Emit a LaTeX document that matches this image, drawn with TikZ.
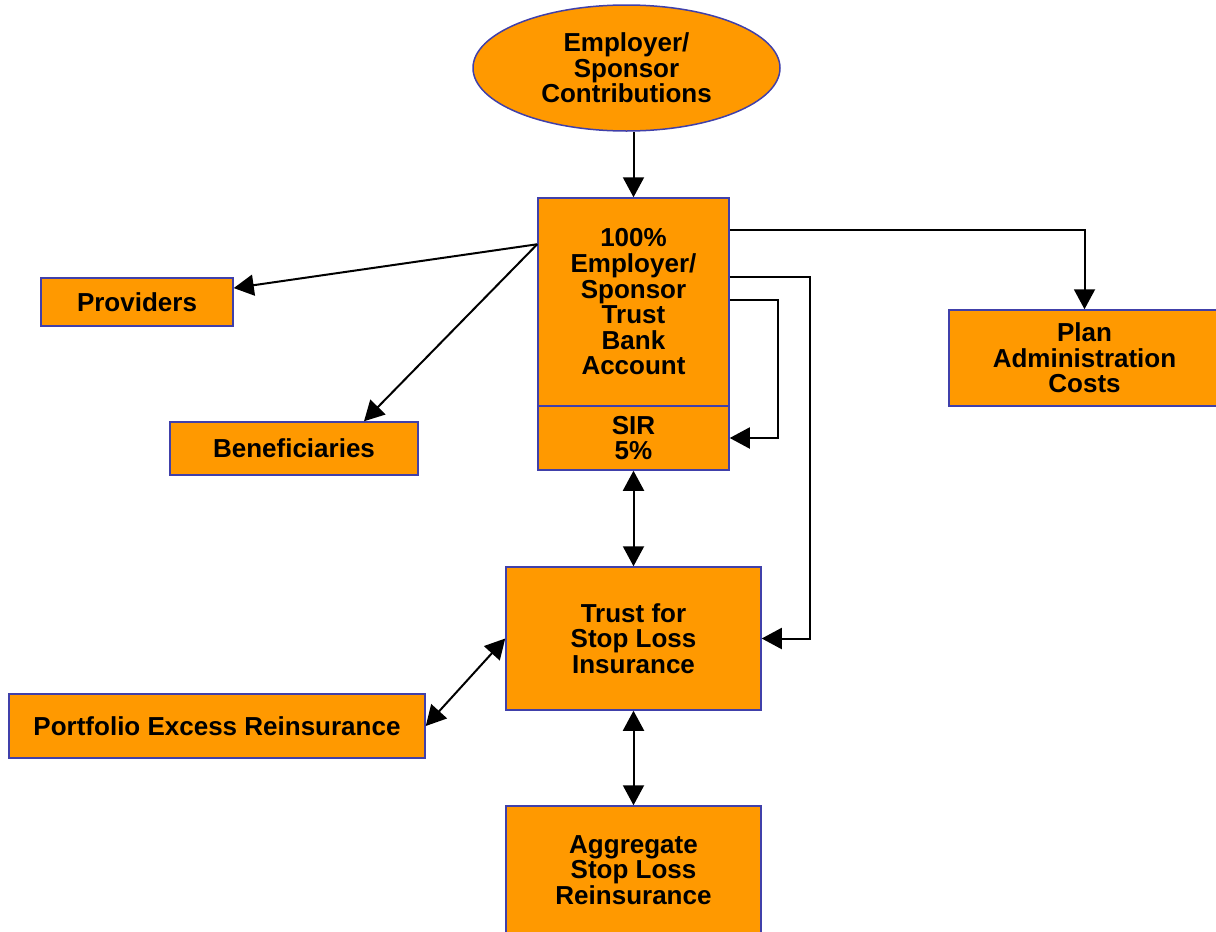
\documentclass[tikz,border=0pt]{standalone}
\usepackage{fontspec}
\setmainfont{Liberation Sans}
\usetikzlibrary{arrows.meta, shapes.geometric, calc}
\definecolor{fillorange}{RGB}{255,153,0}
\definecolor{edgeblue}{RGB}{64,64,170}

\begin{document}
\begin{tikzpicture}[
  x=0.5pt, y=-0.5pt,
  box/.style={rectangle, draw=edgeblue, fill=fillorange, line width=0.75pt, inner sep=0pt, align=center,
    font=\fontsize{13}{12.8}\selectfont\bfseries},
  oval/.style={box, ellipse},
  >={Triangle[length=10pt, width=10.5pt]}, line width=1pt
]
  \clip (0,0) rectangle (1216,932);
  \node[oval] (contrib) at (626.5,68) [minimum width=153.5pt, minimum height=63pt] {Employer/\\Sponsor\\Contributions};
  \node[box] (bank) at (633.5,302) [minimum width=95.5pt, minimum height=104pt] {100\%\\Employer/\\Sponsor\\Trust\\Bank\\Account};
  \node[box] (sir) at (633.5,438) [minimum width=95.5pt, minimum height=32pt] {SIR\\5\%};
  \node[box] (prov) at (137,302) [minimum width=96pt, minimum height=24pt] {Providers};
  \node[box] (benef) at (294,448.5) [minimum width=124pt, minimum height=26.5pt] {Beneficiaries};
  \node[box] (plan) at (1084.5,358) [minimum width=135.5pt, minimum height=48pt] {Plan\\Administration\\Costs};
  \node[box] (trust) at (633.5,638.5) [minimum width=127.5pt, minimum height=71.5pt] {Trust for\\Stop Loss\\Insurance};
  \node[box] (port) at (217,726) [minimum width=208pt, minimum height=32pt] {Portfolio Excess Reinsurance};
  \node[box] (aggr) at (633.5,870) [minimum width=127.5pt, minimum height=64pt] {Aggregate\\Stop Loss\\Reinsurance};

  \coordinate (fork) at ($(bank.north west)+(0,47)$);
  \coordinate (toplan) at ($(bank.north east)+(0,33)$);
  \coordinate (totrust) at ($(bank.north east)+(0,80)$);
  \coordinate (tosir) at ($(bank.north east)+(0,103)$);

  \draw[->] (bank.north |- contrib.south) -- (bank.north);
  \draw[->] (fork) -- (prov);
  \draw[->] (fork) -- ($(benef.north)+(70,0)$);
  \draw[->] (toplan) -| (plan.north);
  \draw[->] (totrust) -- ++(80,0) |- (trust.east);
  \draw[->] (tosir) -- ++(48,0) |- (sir.east);
  \draw[<->] (sir.south) -- (trust.north);
  \draw[<->] (port.east) -- (trust.west);
  \draw[<->] (trust.south) -- (aggr.north);
\end{tikzpicture}
\end{document}
